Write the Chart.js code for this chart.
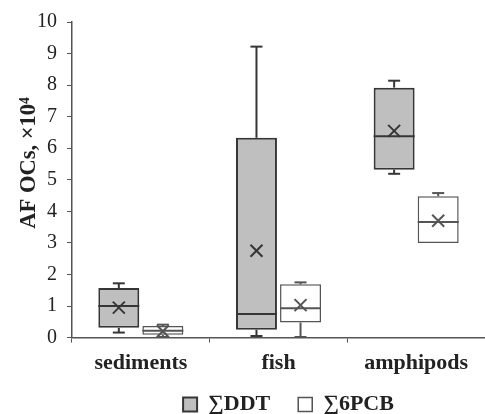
<!DOCTYPE html>
<html>
<head>
<meta charset="utf-8">
<script src="https://cdn.jsdelivr.net/npm/chart.js@4.4.0/dist/chart.umd.min.js"></script>
<style>
  body { margin: 0; background: #fff; }
  #wrap { width: 485px; height: 414px; }
</style>
</head>
<body>
<div id="wrap"><canvas id="ChartOCs"></canvas></div>
<script>
const categorias = ['sediments', 'fish', 'amphipods'];

// ΣDDT
const ddtMin = [0.16, 0.05, 5.19];
const ddtQ1 = [0.31, 0.25, 5.32];
const ddtMediana = [1.0, 0.75, 6.38];
const ddtQ3 = [1.57, 6.33, 7.92];
const ddtMax = [1.72, 9.22, 8.14];
const ddtMedia = [0.95, 2.75, 6.55];

// Σ6PCB
const pcbMin = [0.02, 0.02, 3.0];
const pcbQ1 = [0.09, 0.48, 3.0];
const pcbMediana = [0.22, 0.93, 3.66];
const pcbQ3 = [0.37, 1.69, 4.48];
const pcbMax = [0.41, 1.75, 4.58];
const pcbMedia = [0.2, 1.03, 3.7];

const yTicks = [0, 1, 2, 3, 4, 5, 6, 7, 8, 9, 10];

const fonte = 'Liberation Serif, Times New Roman, serif';

const series = [
    { min: ddtMin, med: ddtMediana, max: ddtMax, media: ddtMedia, q1: ddtQ1, q3: ddtQ3, cor: '#363636' },
    { min: pcbMin, med: pcbMediana, max: pcbMax, media: pcbMedia, q1: pcbQ1, q3: pcbQ3, cor: '#555555' }
];

function linha(ctx, x1, y1, x2, y2) {
    ctx.beginPath();
    ctx.moveTo(x1, y1);
    ctx.lineTo(x2, y2);
    ctx.stroke();
}

// whiskers, median and mean drawn on top of the floating bars
const extrasBox = {
    id: 'extrasBox',
    afterLayout(chart) {
        // put the legend where the original has it
        const lg = chart.legend;
        lg.top = chart.chartArea.bottom + 28;
        lg.bottom = lg.top + 60;
        lg.height = 60;
        lg.left += 10;
        lg.right += 10;
    },
    afterDatasetsDraw(chart) {
        const ctx = chart.ctx;
        const y = chart.scales.y;
        series.forEach((s, di) => {
            chart.getDatasetMeta(di).data.forEach((bar, i) => {
                const x = bar.x;
                const meia = bar.width / 2;
                const cap = 6;
                ctx.save();
                ctx.strokeStyle = s.cor;
                ctx.lineWidth = 2;
                const yMax = y.getPixelForValue(s.max[i]);
                const yQ3 = y.getPixelForValue(s.q3[i]);
                const yQ1 = y.getPixelForValue(s.q1[i]);
                const yMin = y.getPixelForValue(s.min[i]);
                if (s.max[i] > s.q3[i]) {
                    linha(ctx, x, yQ3, x, yMax);
                    linha(ctx, x - cap, yMax, x + cap, yMax);
                }
                if (s.min[i] < s.q1[i]) {
                    linha(ctx, x, yQ1, x, yMin);
                    linha(ctx, x - cap, yMin, x + cap, yMin);
                }
                const yMed = y.getPixelForValue(s.med[i]);
                linha(ctx, x - meia, yMed, x + meia, yMed);
                const yMedia = y.getPixelForValue(s.media[i]);
                const r = 6;
                linha(ctx, x - r, yMedia - r, x + r, yMedia + r);
                linha(ctx, x - r, yMedia + r, x + r, yMedia - r);
                ctx.restore();
            });
        });
    }
};

const chartOCs = new Chart(document.getElementById('ChartOCs'), {
    type: 'bar',
    data: {
        labels: categorias,
        datasets: [{
            label: '\u2211DDT',
            data: ddtQ1.map((v, i) => [v, ddtQ3[i]]),
            backgroundColor: '#bfbfbf',
            borderColor: '#363636',
            borderWidth: 2,
            borderSkipped: false
        }, {
            label: '\u22116PCB',
            data: pcbQ1.map((v, i) => [v, pcbQ3[i]]),
            backgroundColor: '#ffffff',
            borderColor: '#555555',
            borderWidth: 1.5,
            borderSkipped: false
        }]
    },
    options: {
        responsive: true,
        maintainAspectRatio: false,
        animation: false,
        layout: { padding: { top: 3, right: 0, left: 0, bottom: 0 } },
        categoryPercentage: 0.64,
        barPercentage: 0.93,
        plugins: {
            tooltip: { enabled: false },
            legend: {
                position: 'bottom',
                fullSize: false,
                maxHeight: 29,
                labels: {
                    boxWidth: 14,
                    boxHeight: 14,
                    padding: 28,
                    color: '#222',
                    font: { family: fonte, size: 22, weight: 'bold' }
                }
            }
        },
        scales: {
            x: {
                grid: { drawOnChartArea: false, tickLength: 5, color: '#555' },
                border: { color: '#555', width: 1.5 },
                ticks: {
                    color: '#222',
                    padding: 8,
                    font: { family: fonte, size: 22, weight: 'bold' }
                }
            },
            y: {
                min: 0,
                max: 10,
                afterFit: (scale) => { scale.width = 72; },
                afterBuildTicks: (scale) => { scale.ticks = yTicks.map(v => ({ value: v })); },
                grid: { drawOnChartArea: false, tickLength: 5, color: '#555' },
                border: { color: '#555', width: 1.5 },
                ticks: {
                    color: '#222',
                    padding: 10,
                    font: { family: fonte, size: 20 }
                },
                title: {
                    display: true,
                    // en spaces in front lift the title a bit, as in the original
                    text: '\u2002\u2002\u2002AF OCs, \u00d710\u2074',
                    color: '#222',
                    padding: { top: 16, bottom: 0 },
                    font: { family: fonte, size: 22.5, weight: 'bold' }
                }
            }
        }
    },
    plugins: [extrasBox]
});
</script>
</body>
</html>
